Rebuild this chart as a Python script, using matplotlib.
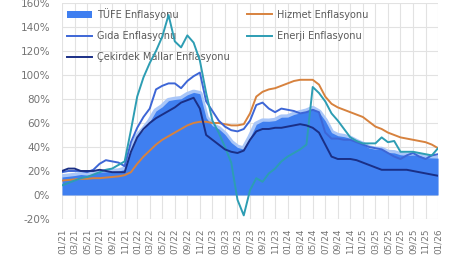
import matplotlib

matplotlib.use("Agg")
import matplotlib.pyplot as plt
import numpy as np
import pandas as pd
from matplotlib.patches import Patch
from matplotlib.lines import Line2D

# monthly, 01/21 .. 01/26 (annual % change)
months = pd.date_range("2021-01-01", "2026-01-01", freq="MS")

tufe = [
    15.0, 15.6, 16.2, 17.1, 16.6, 17.5, 19.0, 19.3, 19.6, 19.9, 21.3, 36.1,
    48.7, 54.4, 61.1, 70.0, 73.5, 78.6, 79.6, 80.2, 83.5, 85.5, 84.4, 64.3,
    57.7, 55.2, 50.5, 43.7, 39.6, 38.2, 47.8, 58.9, 61.5, 61.4, 62.0, 64.8,
    64.9, 67.1, 68.5, 69.8, 72.0, 69.0, 61.8, 52.0, 49.4, 48.6, 47.1, 44.4,
    42.1, 39.1, 38.1, 37.9, 35.4, 35.1, 33.5, 33.0, 33.3, 32.9, 31.1, 30.9,
    30.7,
]
hizmet = [
    12.0, 12.5, 13.0, 13.5, 13.5, 14.0, 14.0, 14.5, 15.0, 15.5, 16.5, 19.0,
    26.0, 32.0, 37.0, 42.0, 46.0, 49.0, 52.0, 55.0, 58.0, 60.0, 61.0, 61.0,
    60.0, 60.0, 59.0, 58.0, 58.0, 59.0, 68.0, 82.0, 86.0, 88.0, 89.0, 91.0,
    93.0, 95.0, 96.0, 96.0, 96.0, 92.0, 82.0, 76.0, 73.0, 71.0, 69.0, 67.0,
    65.0, 61.0, 57.0, 55.0, 52.0, 50.0, 48.0, 47.0, 46.0, 45.0, 44.0, 42.0,
    39.0,
]
gida = [
    19.0, 20.0, 20.0, 20.0, 19.0, 21.0, 26.0, 29.0, 28.0, 27.0, 24.0, 44.0,
    56.0, 65.0, 72.0, 88.0, 91.0, 93.0, 93.0, 89.0, 95.0, 99.0, 102.0, 78.0,
    70.0, 62.0, 57.0, 54.0, 53.0, 55.0, 62.0, 75.0, 77.0, 72.0, 69.0, 72.0,
    71.0, 70.0, 68.0, 69.0, 71.0, 69.0, 52.0, 47.0, 47.0, 46.0, 46.0, 44.0,
    42.0, 40.0, 39.0, 38.0, 35.0, 32.0, 30.0, 33.0, 35.0, 32.0, 30.0, 33.0,
    34.0,
]
enerji = [
    8.0, 10.0, 12.0, 14.0, 15.0, 17.0, 19.0, 21.0, 22.0, 25.0, 28.0, 54.0,
    82.0, 98.0, 110.0, 120.0, 132.0, 150.0, 128.0, 123.0, 133.0, 127.0, 112.0, 85.0,
    62.0, 52.0, 40.0, 27.0, -4.0, -17.0, 4.0, 14.0, 11.0, 18.0, 22.0, 28.0,
    32.0, 35.0, 38.0, 42.0, 90.0, 85.0, 78.0, 68.0, 62.0, 55.0, 48.0, 45.0,
    43.0, 43.0, 43.0, 48.0, 44.0, 45.0, 36.0, 36.0, 36.0, 35.0, 34.0, 33.0,
    39.0,
]
cekirdek = [
    20.0, 22.0, 22.0, 20.0, 20.0, 20.0, 21.0, 20.0, 19.0, 19.0, 19.0, 36.0,
    48.0, 55.0, 60.0, 64.0, 67.0, 70.0, 73.0, 77.0, 79.0, 81.0, 72.0, 50.0,
    46.0, 42.0, 38.0, 36.0, 35.0, 37.0, 46.0, 53.0, 55.0, 55.0, 56.0, 56.0,
    57.0, 58.0, 59.0, 58.0, 56.0, 52.0, 42.0, 32.0, 30.0, 30.0, 30.0, 29.0,
    27.0, 25.0, 23.0, 21.0, 21.0, 21.0, 21.0, 21.0, 20.0, 19.0, 18.0, 17.0,
    16.0,
]

x = np.arange(len(months))
tick_labels = [d.strftime("%m/%y") for d in months[::2]]

fig = plt.figure(figsize=(4.71, 2.61), dpi=100)
ax = fig.add_axes([0.1316, 0.161, 0.7985, 0.8275])

c_area = "#3f7ff0"
c_gida = "#3d66d6"
c_core = "#1a2f86"
c_hiz = "#d7823e"
c_ene = "#2d9db3"

ax.plot(x, tufe, color="#a9c6f8", linewidth=4.0, zorder=2)
ax.fill_between(x, 0, tufe, color=c_area, linewidth=0, zorder=3)
ax.plot(x, hizmet, color=c_hiz, linewidth=1.4, zorder=4)
ax.plot(x, gida, color=c_gida, linewidth=1.4, zorder=5)
ax.plot(x, enerji, color=c_ene, linewidth=1.4, zorder=6)
ax.plot(x, cekirdek, color=c_core, linewidth=1.4, zorder=7)

ax.set_xlim(0, len(x) - 1)
ax.set_ylim(-20, 160)
ax.set_yticks(np.arange(-20, 161, 20))
ax.set_yticklabels([f"{v}%" for v in range(-20, 161, 20)])
ax.set_xticks(x[::2])
ax.set_xticklabels(tick_labels, rotation=90)
ax.tick_params(axis="both", length=0, colors="#747474")
ax.tick_params(axis="x", labelsize=6.4, pad=6.5)
ax.tick_params(axis="y", labelsize=7.5, pad=8.5)
ax.grid(True, color="#e2e2e2", linewidth=0.8)
ax.set_axisbelow(True)
for s in ax.spines.values():
    s.set_visible(False)

handles = [
    Patch(facecolor=c_area, edgecolor="none"),
    Line2D([], [], color=c_gida, linewidth=1.4),
    Line2D([], [], color=c_core, linewidth=1.4),
    Line2D([], [], color=c_hiz, linewidth=1.4),
    Line2D([], [], color=c_ene, linewidth=1.4),
]
labels = [
    "TÜFE Enflasyonu",
    "Gıda Enflasyonu",
    "Çekirdek Mallar Enflasyonu",
    "Hizmet Enflasyonu",
    "Enerji Enflasyonu",
]
leg = ax.legend(
    handles, labels, ncol=2, loc="upper left", bbox_to_anchor=(0.0, 1.0),
    frameon=False, fontsize=7, labelspacing=1.15, handlelength=2.6,
    handletextpad=0.5, columnspacing=1.75, borderaxespad=0.1, borderpad=0.4,
)
for t in leg.get_texts():
    t.set_color("#5a5a5a")

fig.savefig("out.png", dpi=100)
